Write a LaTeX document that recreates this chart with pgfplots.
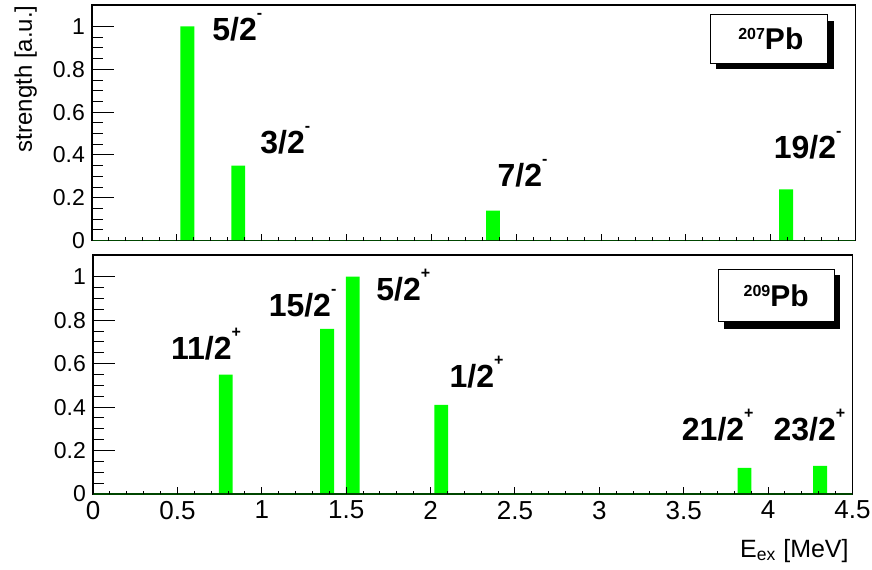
\documentclass[border=0pt]{standalone}
\usepackage{fontspec}
\setmainfont{Liberation Sans}
\usepackage{pgfplots}
\pgfplotsset{compat=1.18}
\definecolor{rootgreen}{RGB}{0,255,0}
\definecolor{darkgreen}{RGB}{0,70,0}
\newcommand\lab[2]{\textbf{#1\raisebox{11pt}{\fontsize{8}{8}\selectfont\bfseries #2}}}
\newcommand\iso[1]{\textbf{\raisebox{5pt}{\fontsize{8}{8}\selectfont\bfseries #1}\fontsize{15}{15}\selectfont Pb}}
\tikzset{barlabel/.style={anchor=base west, inner sep=0pt, font=\fontsize{16}{16}\selectfont}}
\pgfplotsset{
  rootcommon/.style={
    scale only axis,
    xmin=0, xmax=4.5, ymin=0, ymax=1.1,
    tick align=inside, tick pos=left,
    every tick/.style={black, line width=0.5pt},
    /pgf/number format/assume math mode=true,
    /pgf/number format/fixed,
  },
  % frame, bars and y ticks
  rooty/.style={
    rootcommon,
    xtick=\empty,
    ytick={0,0.2,0.4,0.6,0.8,1},
    minor y tick num=3,
    major tick length=11pt, minor tick length=5.5pt,
    axis line style={line width=0.75pt},
    yticklabel style={font=\fontsize{11.5}{13}\selectfont},
  },
  % x ticks only
  rootx/.style={
    rootcommon,
    ytick=\empty,
    xtick={0,0.5,1,1.5,2,2.5,3,3.5,4,4.5},
    minor x tick num=4,
    major tick length=3.5pt, minor tick length=1.75pt,
    axis line style={draw=none},
    xticklabel style={font=\fontsize{13}{14}\selectfont},
  },
  rootbar/.style={ybar, bar width=0.082, fill=rootgreen, draw=none},
}
\begin{document}
\begin{tikzpicture}
\useasboundingbox (0,0) rectangle (436pt,-284.5pt);
% ---------- top panel: 207Pb ----------
\begin{axis}[rooty, at={(46pt,-2.5pt)}, anchor=north west,
  width=381.85pt, height=117.85pt]
\addplot[rootbar] coordinates {(0.562,1.0) (0.862,0.35) (2.363,0.14) (4.09,0.24)};
\addplot[darkgreen, line width=0.8pt, forget plot] coordinates {(0,0) (4.5,0)};
\node[barlabel] at (axis cs:0.707,0.935) {\lab{5/2}{-}};
\node[barlabel] at (axis cs:0.990,0.405) {\lab{3/2}{-}};
\node[barlabel] at (axis cs:2.388,0.252) {\lab{7/2}{-}};
\node[barlabel] at (axis cs:4.015,0.385) {\lab{19/2}{-}};
\end{axis}
\begin{axis}[rootx, at={(46pt,-2.5pt)}, anchor=north west,
  width=381.85pt, height=117.85pt, xticklabels={}]
\end{axis}
% ---------- bottom panel: 209Pb ----------
\begin{axis}[rooty, at={(46.5pt,-127.5pt)}, anchor=north west,
  width=379.75pt, height=119.5pt]
\addplot[rootbar] coordinates {(0.787,0.55) (1.387,0.76) (1.539,1.0) (2.063,0.41) (3.860,0.12) (4.308,0.13)};
\addplot[darkgreen, line width=0.8pt, forget plot] coordinates {(0,0) (4.5,0)};
\node[barlabel] at (axis cs:0.460,0.621) {\lab{11/2}{+}};
\node[barlabel] at (axis cs:1.039,0.816) {\lab{15/2}{-}};
\node[barlabel] at (axis cs:1.677,0.890) {\lab{5/2}{+}};
\node[barlabel] at (axis cs:2.111,0.491) {\lab{1/2}{+}};
\node[barlabel] at (axis cs:3.487,0.244) {\lab{21/2}{+}};
\node[barlabel] at (axis cs:4.030,0.244) {\lab{23/2}{+}};
\end{axis}
\begin{axis}[rootx, at={(46.5pt,-127.5pt)}, anchor=north west,
  width=379.75pt, height=119.5pt]
\end{axis}
% ---------- isotope boxes with shadow ----------
\fill[black] (358pt,-10.35pt) rectangle (416.85pt,-34.65pt);
\draw[black, line width=0.5pt, fill=white] (355pt,-7.35pt) rectangle (413.85pt,-31.65pt);
\node[inner sep=0pt] at (385.4pt,-19.5pt) {\iso{207}};
\fill[black] (362.15pt,-137.65pt) rectangle (420pt,-164.3pt);
\draw[black, line width=0.5pt, fill=white] (359.15pt,-134.65pt) rectangle (417pt,-160.85pt);
\node[inner sep=0pt] at (388.1pt,-147.75pt) {\iso{209}};
% ---------- axis titles ----------
\node[rotate=90, anchor=base east, inner sep=0pt, font=\fontsize{12}{12}\selectfont] at (16pt,-2.5pt) {strength [a.u.]};
\node[anchor=base east, inner sep=0pt, font=\fontsize{12.5}{12.5}\selectfont] at (424.5pt,-278.5pt) {E\textsubscript{ex} [MeV]};
\end{tikzpicture}
\end{document}
